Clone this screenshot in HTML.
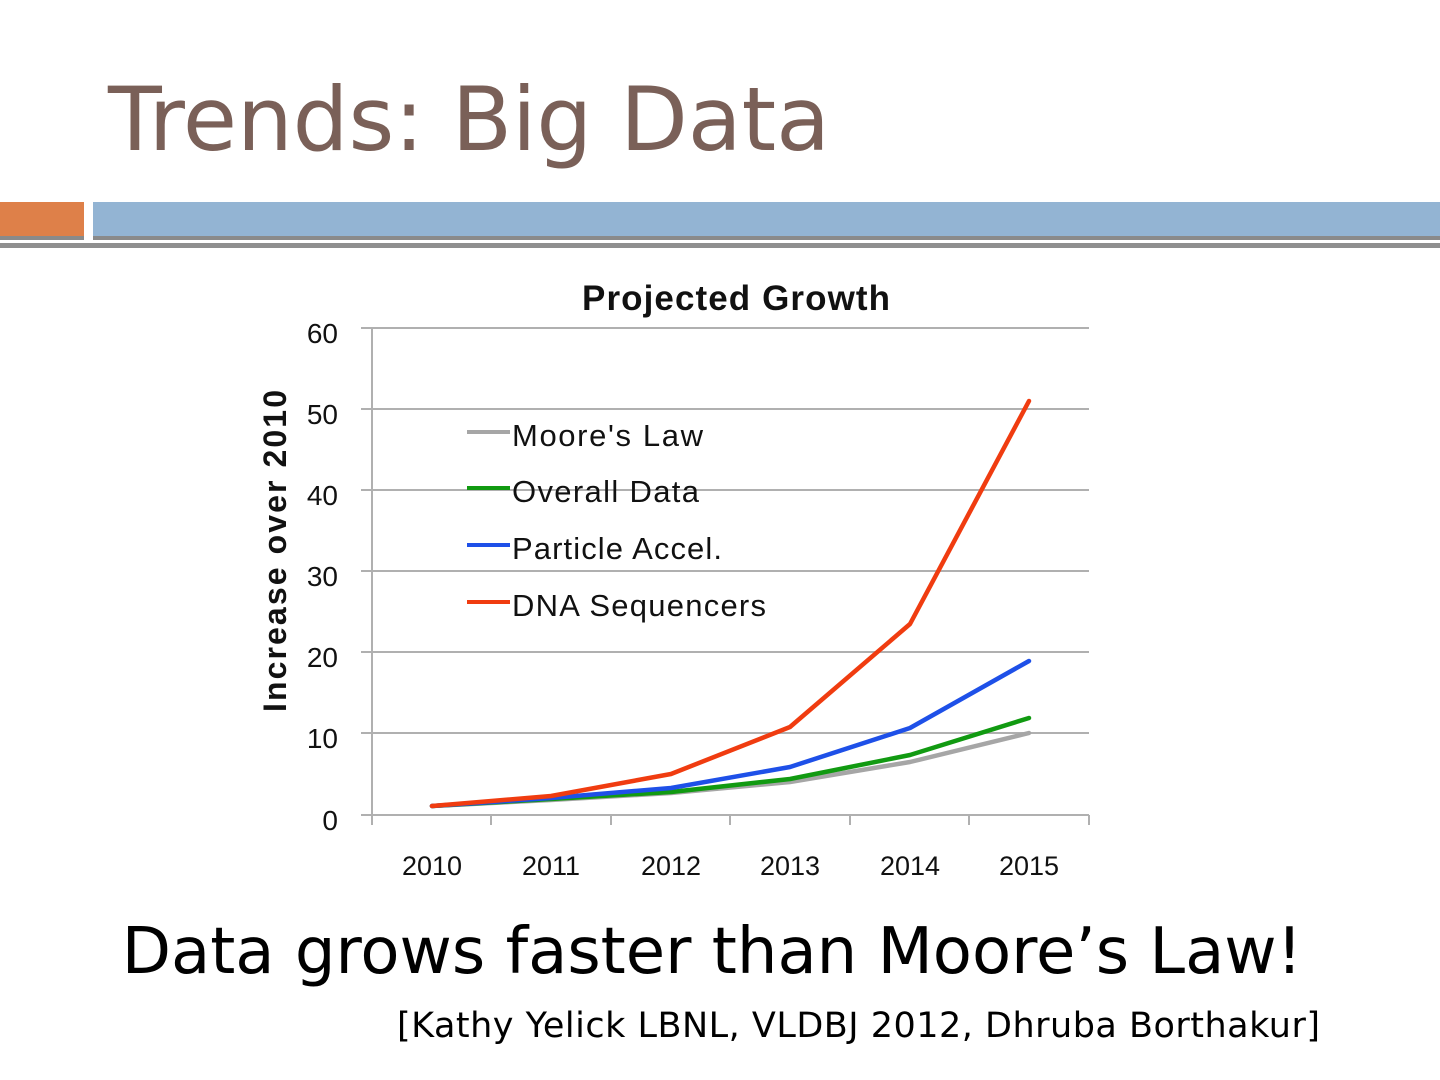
<!DOCTYPE html>
<html><head><meta charset="utf-8"><style>
html,body{margin:0;padding:0;background:#fff;width:1440px;height:1080px;overflow:hidden;font-family:"DejaVu Sans","Liberation Sans",sans-serif;}
</style></head><body>
<svg width="1440" height="1080" xmlns="http://www.w3.org/2000/svg" style="position:absolute;left:0;top:0">
<text x="108" y="150" font-family="DejaVu Sans, sans-serif" font-size="88" fill="#7a6058" textLength="722">Trends: Big Data</text>
<rect x="0" y="202" width="84" height="37" fill="#de8049"/>
<rect x="0" y="236" width="84" height="4" fill="#8a8a8a"/>
<rect x="93" y="202" width="1347" height="35" fill="#93b4d3"/>
<rect x="93" y="236" width="1347" height="4" fill="#8a8a8a"/>
<rect x="0" y="243" width="1440" height="5" fill="#8f8f8f"/>
<g font-family="Liberation Sans, sans-serif">
<text x="582" y="310" font-size="35" font-weight="bold" fill="#111" textLength="308">Projected Growth</text>
<g stroke="#b0b0b0" stroke-width="2">
<line x1="361" y1="328" x2="1089" y2="328"/><line x1="361" y1="409" x2="1089" y2="409"/>
<line x1="361" y1="490" x2="1089" y2="490"/><line x1="361" y1="571" x2="1089" y2="571"/>
<line x1="361" y1="652" x2="1089" y2="652"/><line x1="361" y1="733" x2="1089" y2="733"/>
<line x1="361" y1="815" x2="1089" y2="815"/><line x1="372" y1="328" x2="372" y2="825"/>
<line x1="491" y1="815" x2="491" y2="825"/><line x1="611" y1="815" x2="611" y2="825"/>
<line x1="730" y1="815" x2="730" y2="825"/><line x1="850" y1="815" x2="850" y2="825"/>
<line x1="969" y1="815" x2="969" y2="825"/><line x1="1089" y1="815" x2="1089" y2="825"/>
</g>
<g font-size="28" fill="#111" text-anchor="end">
<text x="338" y="343">60</text><text x="338" y="424">50</text><text x="338" y="505">40</text>
<text x="338" y="586">30</text><text x="338" y="667">20</text><text x="338" y="748">10</text><text x="338" y="830">0</text>
</g>
<g font-size="27" fill="#111" text-anchor="middle">
<text x="432" y="875">2010</text><text x="551" y="875">2011</text><text x="671" y="875">2012</text>
<text x="790" y="875">2013</text><text x="910" y="875">2014</text><text x="1029" y="875">2015</text>
</g>
<text transform="translate(286,712) rotate(-90)" font-size="32" font-weight="bold" fill="#111" textLength="322">Increase over 2010</text>
<g fill="none" stroke-width="4.5" stroke-linejoin="round" stroke-linecap="round">
<polyline stroke="#a6a6a6" points="432,806 551,800 671,793 790,782 910,762 1029,733"/>
<polyline stroke="#119a11" points="432,806 551,799 671,792 790,779 910,755 1029,718"/>
<polyline stroke="#1e50e8" points="432,806 551,798 671,788 790,767 910,728 1029,661"/>
<polyline stroke="#f03c10" points="432,806 551,796 671,774 790,727 910,624 1029,401"/>
</g>
<g stroke-width="4">
<line x1="467" y1="432" x2="510" y2="432" stroke="#a6a6a6"/>
<line x1="467" y1="488" x2="510" y2="488" stroke="#119a11"/>
<line x1="467" y1="545" x2="510" y2="545" stroke="#1e50e8"/>
<line x1="467" y1="602" x2="510" y2="602" stroke="#f03c10"/>
</g>
<g font-size="31" fill="#111">
<text x="512" y="446" textLength="191">Moore's Law</text><text x="512" y="502" textLength="187">Overall Data</text>
<text x="512" y="559" textLength="210">Particle Accel.</text><text x="512" y="616" textLength="254">DNA Sequencers</text>
</g>
</g>
<text x="712" y="973" font-size="64" text-anchor="middle" fill="#000">Data grows faster than Moore’s Law!</text>
<text x="397" y="1037" font-size="35" fill="#000" textLength="923">[Kathy Yelick LBNL, VLDBJ 2012, Dhruba Borthakur]</text>
</svg>
</body></html>
